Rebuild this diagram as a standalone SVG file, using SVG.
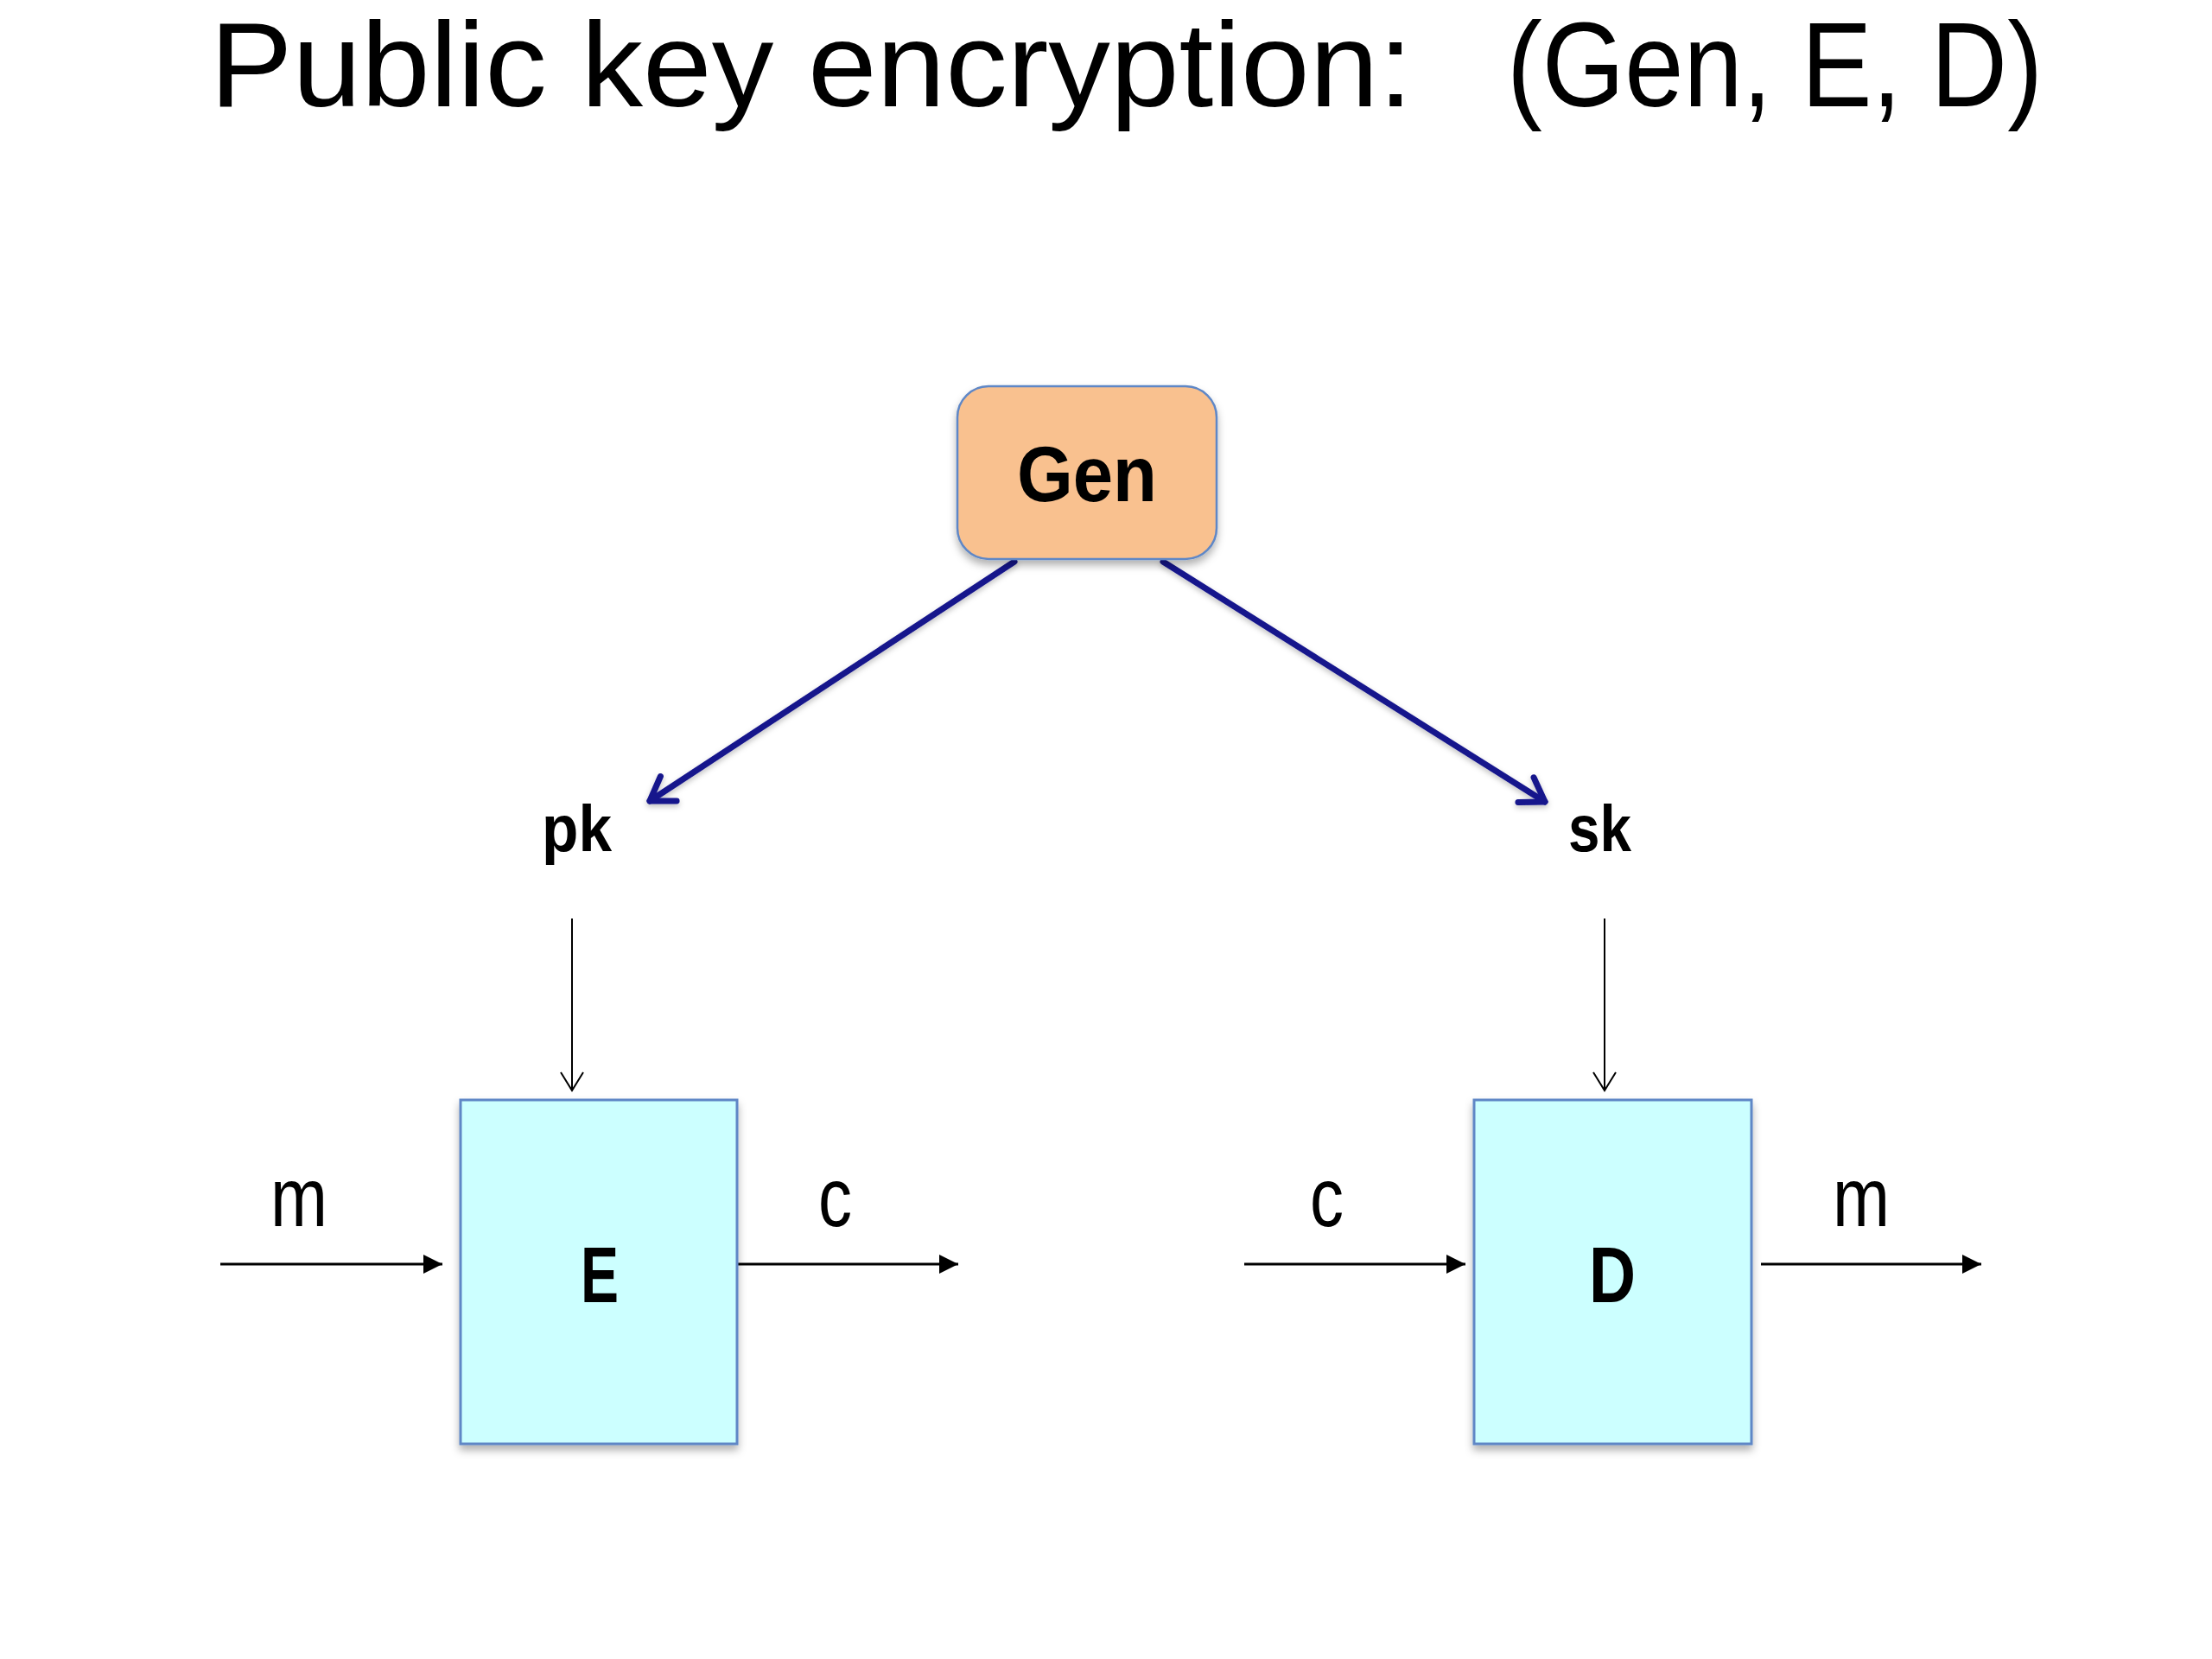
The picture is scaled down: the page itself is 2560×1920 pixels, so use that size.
<svg xmlns="http://www.w3.org/2000/svg" width="2560" height="1920" viewBox="0 0 2560 1920">
<defs>
<style>
.title{font-family:"Liberation Sans",Arial,sans-serif;font-size:140px;fill:#000}
.bold{font-family:"Liberation Sans",Arial,sans-serif;font-weight:bold;fill:#000}
.lbl{font-family:"Liberation Sans",Arial,sans-serif;font-size:96px;fill:#000}
.box{fill:#CCFFFF;stroke:#5F87C6;stroke-width:3}
.gen{fill:#F9C18F;stroke:#5F87C6;stroke-width:2.5}
.blue{stroke:#14148C;stroke-width:7;fill:none;stroke-linecap:round}
.thin{stroke:#000;stroke-width:2;fill:none}
.flow{stroke:#000;stroke-width:3;fill:none}
</style>
<filter id="sh" x="-10%" y="-10%" width="120%" height="130%">
<feDropShadow dx="0" dy="6" stdDeviation="5" flood-color="#000" flood-opacity="0.3"/>
</filter>
<filter id="shb" x="-20%" y="-20%" width="140%" height="140%">
<feDropShadow dx="0" dy="3" stdDeviation="3" flood-color="#000" flood-opacity="0.25"/>
</filter>
<marker id="tri" viewBox="0 0 22 22" refX="22" refY="11" markerWidth="22" markerHeight="22" markerUnits="userSpaceOnUse" orient="auto">
<path d="M0,0 L22,11 L0,22 Z" fill="#000"/>
</marker>
<marker id="vee" viewBox="0 0 30 30" refX="24" refY="15" markerWidth="30" markerHeight="30" markerUnits="userSpaceOnUse" orient="auto">
<path d="M3,2 L24,15 L3,28" fill="none" stroke="#000" stroke-width="2"/>
</marker>
<marker id="bvee" viewBox="0 0 50 50" refX="40" refY="25" markerWidth="50" markerHeight="50" markerUnits="userSpaceOnUse" orient="auto">
<path d="M14,8 L40,25 L14,42" fill="none" stroke="#14148C" stroke-width="7" stroke-linecap="round" stroke-linejoin="round"/>
</marker>
</defs>
<rect width="2560" height="1920" fill="#fff"/>

<g id="title">
<text class="title" x="243" y="123" textLength="1392" lengthAdjust="spacingAndGlyphs">Public key encryption:</text>
<text class="title" x="1744" y="123" textLength="620" lengthAdjust="spacingAndGlyphs">(Gen, E, D)</text>
</g>

<g id="connectors">
<line class="blue" x1="1174" y1="650" x2="752" y2="927" filter="url(#shb)" marker-end="url(#bvee)"/>
<line class="blue" x1="1346" y1="650" x2="1788" y2="928" filter="url(#shb)" marker-end="url(#bvee)"/>
<line class="thin" x1="662" y1="1063" x2="662" y2="1262" marker-end="url(#vee)"/>
<line class="thin" x1="1857" y1="1063" x2="1857" y2="1262" marker-end="url(#vee)"/>
<line class="flow" x1="255" y1="1463" x2="512" y2="1463" marker-end="url(#tri)"/>
<line class="flow" x1="853" y1="1463" x2="1109" y2="1463" marker-end="url(#tri)"/>
<line class="flow" x1="1440" y1="1463" x2="1696" y2="1463" marker-end="url(#tri)"/>
<line class="flow" x1="2038" y1="1463" x2="2293" y2="1463" marker-end="url(#tri)"/>
</g>

<g id="gen">
<rect class="gen" x="1108" y="447" width="300" height="200" rx="36" ry="36" filter="url(#sh)"/>
<text class="bold" x="1258" y="580" font-size="90" text-anchor="middle" textLength="162" lengthAdjust="spacingAndGlyphs">Gen</text>
</g>

<g id="pk">
<text class="bold" x="627" y="985" font-size="76" textLength="81" lengthAdjust="spacingAndGlyphs">pk</text>
</g>
<g id="sk">
<text class="bold" x="1815" y="985" font-size="76" textLength="73" lengthAdjust="spacingAndGlyphs">sk</text>
</g>

<g id="E">
<rect class="box" x="533" y="1273" width="320" height="398" filter="url(#sh)"/>
<text class="bold" x="694" y="1507" font-size="90" text-anchor="middle" textLength="44" lengthAdjust="spacingAndGlyphs">E</text>
</g>
<g id="D">
<rect class="box" x="1706" y="1273" width="321" height="398" filter="url(#sh)"/>
<text class="bold" x="1866" y="1507" font-size="90" text-anchor="middle" textLength="54" lengthAdjust="spacingAndGlyphs">D</text>
</g>

<g id="labels">
<text class="lbl" x="313" y="1419" textLength="66" lengthAdjust="spacingAndGlyphs">m</text>
<text class="lbl" x="947" y="1419" textLength="39" lengthAdjust="spacingAndGlyphs">c</text>
<text class="lbl" x="1516" y="1419" textLength="39" lengthAdjust="spacingAndGlyphs">c</text>
<text class="lbl" x="2121" y="1419" textLength="66" lengthAdjust="spacingAndGlyphs">m</text>
</g>
</svg>
